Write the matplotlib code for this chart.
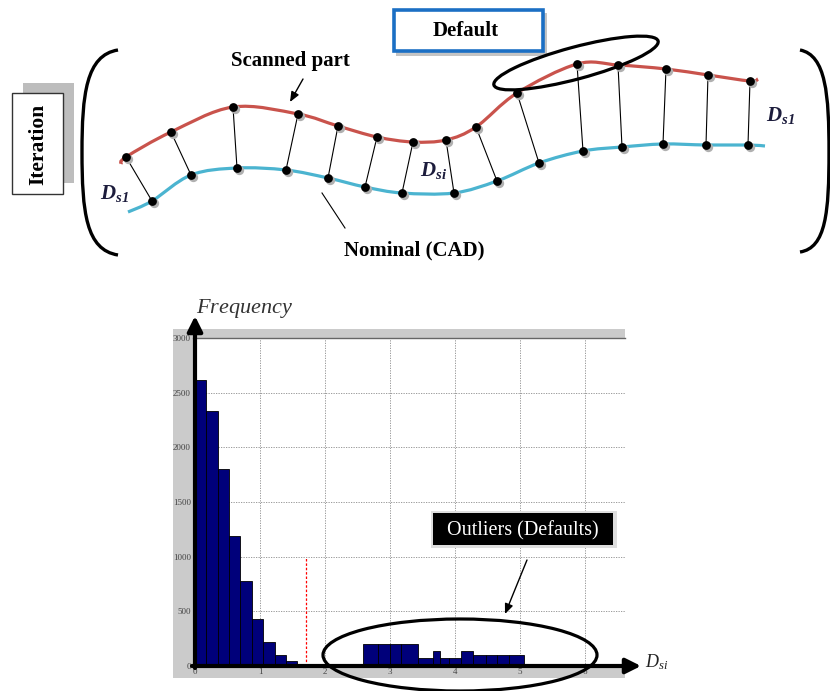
import numpy as np
import matplotlib
matplotlib.use("Agg")
import matplotlib.pyplot as plt
from matplotlib.path import Path
from matplotlib.patches import PathPatch, Rectangle, Ellipse

plt.rcParams['font.family'] = ['Liberation Serif', 'DejaVu Serif']
plt.rcParams['mathtext.fontset'] = 'custom'
plt.rcParams['mathtext.rm'] = 'Liberation Serif'
plt.rcParams['mathtext.it'] = 'Liberation Serif:italic'
plt.rcParams['mathtext.bf'] = 'Liberation Serif:italic:bold'

# ---- top sketch: sampled points (pixel space of the figure) ----
scan_x = [121, 126, 171, 233, 298, 338, 377, 413, 446, 476, 517, 577, 618, 666, 708, 750, 758]
scan_y = [164, 157, 132, 107, 114, 126, 137, 142, 140, 127, 93, 64, 65, 69, 75, 81, 79]
cad_x = [128, 152, 191, 237, 286, 328, 365, 402, 454, 497, 539, 583, 622, 663, 706, 748, 765]
cad_y = [212, 201, 175, 168, 170, 178, 187, 193, 193, 181, 163, 151, 147, 144, 145, 145, 146]

# ---- histogram of deviations D_si ----
bulk_edges = [0.0, 0.175, 0.35, 0.525, 0.70, 0.875, 1.05, 1.225, 1.40, 1.575]
bulk_counts = [2620, 2330, 1800, 1190, 780, 430, 215, 100, 42]
outlier_edges = [2.59, 2.81, 3.0, 3.17, 3.43, 3.66, 3.77, 3.91, 4.09, 4.27, 4.47, 4.65, 4.83, 5.06]
outlier_counts = [200, 200, 200, 200, 72, 135, 72, 72, 135, 100, 100, 100, 100]
threshold = 1.71
threshold_top = 1000
x_ticks = [0, 1, 2, 3, 4, 5, 6]
y_ticks = [0, 500, 1000, 1500, 2000, 2500, 3000]

RED = '#c9534c'
BLUE = '#4bb4d0'


def smooth_path(xs, ys):
    # Catmull-Rom through the points, written as cubic beziers
    pts = np.column_stack([xs, ys]).astype(float)
    verts = [pts[0]]
    codes = [Path.MOVETO]
    n = len(pts)
    for i in range(n - 1):
        p0 = pts[max(i - 1, 0)]
        p1 = pts[i]
        p2 = pts[i + 1]
        p3 = pts[min(i + 2, n - 1)]
        verts += [p1 + (p2 - p0) / 6, p2 - (p3 - p1) / 6, p2]
        codes += [Path.CURVE4] * 3
    return Path(verts, codes)


fig = plt.figure(figsize=(8.3, 6.91), dpi=100)

bg = fig.add_axes([0, 0, 1, 1], zorder=0)
bg.set_xlim(0, 830)
bg.set_ylim(691, 0)
bg.axis('off')

ax = fig.add_axes([193 / 830, 25 / 691, 432 / 830, 328 / 691], zorder=1)

fg = fig.add_axes([0, 0, 1, 1], zorder=2)
fg.set_xlim(0, 830)
fg.set_ylim(691, 0)
fg.axis('off')

# ---------------- histogram ----------------
bg.add_patch(Rectangle((173, 329), 452, 349, fc='#cbcbcb', ec='none'))

ax.set_facecolor('white')
for e, c in [(bulk_edges, bulk_counts), (outlier_edges, outlier_counts)]:
    e = np.array(e)
    ax.bar(e[:-1], c, width=np.diff(e), align='edge', color='#00007a',
           edgecolor='black', linewidth=0.6, zorder=2)
ax.plot([threshold, threshold], [0, threshold_top], color='red', lw=0.9,
        ls=(0, (2, 1.5)), zorder=3)

ax.set_xlim(-0.03, 6.615)
ax.set_ylim(0, 3000)
ax.set_xticks(x_ticks)
ax.set_yticks(y_ticks)
ax.tick_params(length=0, labelsize=6.5, labelcolor='#444', pad=1.5)
ax.grid(True, color='#8a8a8a', lw=0.6, ls=(0, (1.5, 1.5)), zorder=1)
for s in ['left', 'right', 'bottom']:
    ax.spines[s].set_visible(False)
ax.spines['top'].set_color('#666')
ax.spines['top'].set_linewidth(1.0)

# axis arrows and labels
arrow = dict(arrowstyle='-|>,head_length=0.9,head_width=0.45', lw=3,
             color='black', shrinkA=0, shrinkB=0)
fg.annotate('', xy=(195, 316), xytext=(195, 668), arrowprops=arrow)
fg.annotate('', xy=(641, 666), xytext=(192, 666), arrowprops=arrow)
fg.text(196, 308, r'$Frequency$', fontsize=16, color='#333', ha='left', va='center')
fg.text(645, 662, r'$D_{si}$', fontsize=13, color='#222', ha='left', va='center')

# outliers call-out
fg.add_patch(Ellipse((460, 655), 274, 72, fill=False, ec='black', lw=2.3))
fg.add_patch(Rectangle((431, 511), 186, 37, fc='#dedede', ec='none'))
fg.add_patch(Rectangle((433, 513), 180, 32, fc='black', ec='none'))
fg.text(523, 531, 'Outliers (Defaults)', color='white', fontsize=14.5,
        ha='center', va='center')
fg.annotate('', xy=(505, 614), xytext=(527, 560),
            arrowprops=dict(arrowstyle='-|>,head_length=0.6,head_width=0.25',
                            lw=1, color='black', shrinkA=0, shrinkB=0))

# ---------------- top sketch ----------------
# brackets
lb = Path([(118, 50), (86, 55), (82, 95), (82, 152), (82, 212), (86, 250), (118, 255)],
          [Path.MOVETO] + [Path.CURVE4] * 6)
rb = Path([(800, 50), (826, 55), (829, 95), (829, 152), (829, 212), (826, 248), (800, 252)],
          [Path.MOVETO] + [Path.CURVE4] * 6)
for p in (lb, rb):
    fg.add_patch(PathPatch(p, fill=False, lw=2.4, ec='black'))

# connectors between matched points (skip curve ends)
for i in range(1, len(scan_x) - 1):
    fg.plot([scan_x[i], cad_x[i]], [scan_y[i], cad_y[i]], color='black', lw=0.8)

fg.add_patch(PathPatch(smooth_path(scan_x, scan_y), fill=False, ec=RED, lw=2.3,
                       capstyle='butt'))
fg.add_patch(PathPatch(smooth_path(cad_x, cad_y), fill=False, ec=BLUE, lw=2.3,
                       capstyle='butt'))

dx = scan_x[1:-1] + cad_x[1:-1]
dy = scan_y[1:-1] + cad_y[1:-1]
fg.scatter(np.array(dx) + 1.5, np.array(dy) + 1.5, s=45, color='#b0b0b0', lw=0, zorder=4)
fg.scatter(dx, dy, s=40, color='black', lw=0, zorder=5)

# default ellipse
fg.add_patch(Ellipse((576, 63), 170, 32, angle=-15, fill=False, ec='black', lw=2.3, zorder=6))

# boxes
fg.add_patch(Rectangle((396, 13), 151, 43, fc='#c4c4c4', ec='none'))
fg.add_patch(Rectangle((394, 10), 149, 41, fc='white', ec='#1b6fc4', lw=2.6))
fg.text(466, 31, 'Default', fontsize=15, fontweight='bold', ha='center', va='center')

fg.add_patch(Rectangle((23, 83), 51, 100, fc='#bdbdbd', ec='none'))
fg.add_patch(Rectangle((12, 93), 51, 101, fc='white', ec='#333', lw=1))
fg.text(38, 144, 'Iteration', fontsize=15.5, fontweight='bold', rotation=90,
        ha='center', va='center')

# labels
fg.text(290, 61, 'Scanned part', fontsize=15, fontweight='bold', ha='center', va='center')
fg.annotate('', xy=(290, 102), xytext=(303, 79),
            arrowprops=dict(arrowstyle='-|>,head_length=0.6,head_width=0.25',
                            lw=1, color='black', shrinkA=0, shrinkB=0))
fg.text(414, 250, 'Nominal (CAD)', fontsize=15, fontweight='bold', ha='center', va='center')
fg.plot([345, 322], [228, 193], color='black', lw=0.8)

dcol = '#1c1c3c'
fg.text(114, 193, r'$\mathbf{D_{s1}}$', fontsize=15, color=dcol, ha='center', va='center')
fg.text(434, 170, r'$\mathbf{D_{si}}$', fontsize=15, color=dcol, ha='center', va='center')
fg.text(780, 115, r'$\mathbf{D_{s1}}$', fontsize=15, color=dcol, ha='center', va='center')

fig.savefig('out.png', dpi=100)
